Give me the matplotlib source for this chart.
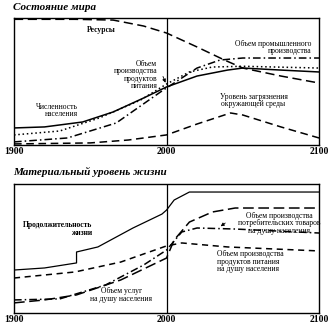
import matplotlib.pyplot as plt

plt.rcParams["font.family"] = ["Liberation Serif", "DejaVu Serif"]

# --- top panel: "state of the world" (values as % of panel height) ---
res_years = [1900, 1940, 1965, 1985, 2000, 2020, 2038, 2050, 2075, 2100]
res_vals = [99, 99, 98.4, 93.7, 88.2, 77.2, 66.9, 60.6, 54.3, 48.8]

pop_years = [1900, 1920, 1945, 1965, 1985, 2000, 2020, 2040, 2050, 2075, 2100]
pop_vals = [13.4, 14.2, 18.1, 26.0, 37.0, 45.7, 54.3, 59.0, 60.6, 59.0, 57.5]

food_years = [1900, 1930, 1956, 1983, 2000, 2015, 2030, 2050, 2100]
food_vals = [7.9, 11.0, 21.3, 35.4, 48.0, 57.5, 61.4, 62.0, 60.6]

ind_years = [1900, 1935, 1967, 1996, 2000, 2020, 2035, 2050, 2100]
ind_vals = [2.4, 5.5, 17.3, 41.7, 44.9, 60.6, 66.9, 68.5, 68.5]

poll_years = [1900, 1950, 1975, 2000, 2020, 2042, 2050, 2075, 2100]
poll_vals = [0.8, 1.6, 3.9, 7.9, 16.5, 25.2, 23.6, 14.2, 5.5]

# --- bottom panel: "material standard of living" ---
life_years = [1900, 1920, 1941, 1941, 1955, 1978, 1997, 2000, 2005, 2015, 2100]
life_vals = [33.3, 34.9, 38.8, 47.3, 51.2, 65.9, 76.7, 79.8, 87.6, 93.8, 93.8]

fpc_years = [1900, 1940, 1970, 2000, 2010, 2040, 2100]
fpc_vals = [27.1, 31.8, 39.5, 52.0, 54.3, 51.2, 48.1]

goods_years = [1900, 1930, 1960, 1985, 2000, 2010, 2020, 2045, 2100]
goods_vals = [10.1, 10.9, 21.7, 37.2, 48.8, 62.8, 65.9, 65.1, 62.0]

serv_years = [1900, 1920, 1941, 1970, 2000, 2005, 2015, 2030, 2045, 2100]
serv_vals = [7.8, 10.1, 14.0, 25.6, 42.6, 56.6, 70.5, 78.3, 81.4, 81.4]

ticks = [1900, 2000, 2100]

fig = plt.figure(figsize=(3.28, 3.34), dpi=100)
ax1 = fig.add_axes([0.0427, 0.566, 0.930, 0.380])
ax2 = fig.add_axes([0.0427, 0.063, 0.930, 0.386])

for ax in (ax1, ax2):
    ax.set_xlim(1900, 2100)
    ax.set_ylim(0, 100)
    ax.set_yticks([])
    ax.set_xticks(ticks)
    ax.set_xticklabels([str(t) for t in ticks], fontsize=7, fontweight="bold")
    ax.tick_params(axis="x", length=0, pad=1.5)
    ax.axvline(2000, color="black", lw=0.9)
    for sp in ax.spines.values():
        sp.set_linewidth(1.0)

lw = 1.1
ax1.plot(res_years, res_vals, color="black", lw=lw, dashes=(6, 3))
ax1.plot(pop_years, pop_vals, color="black", lw=lw)
ax1.plot(food_years, food_vals, color="black", lw=lw, dashes=(1, 1.8))
ax1.plot(ind_years, ind_vals, color="black", lw=lw, dashes=(5, 2, 1, 2))
ax1.plot(poll_years, poll_vals, color="black", lw=lw, dashes=(5, 3))

tk = dict(fontsize=5.5, color="black", va="top", linespacing=0.9)
ax1.text(1957, 94, "Ресурсы", ha="center", fontweight="bold", **tk)
ax1.text(2095, 83, "Объем промышленного\nпроизводства", ha="right",
         multialignment="right", **tk)
ax1.text(1994, 67, "Объем\nпроизводства\nпродуктов\nпитания", ha="right",
         multialignment="right", **tk)
ax1.annotate("", xy=(2000, 47), xytext=(1997, 56),
             arrowprops=dict(arrowstyle="-|>", lw=0.6, color="black",
                             mutation_scale=5))
ax1.text(1942, 33, "Численность\nнаселения", ha="right",
         multialignment="right", **tk)
ax1.text(2057, 41, "Уровень загрязнения\nокружающей среды", ha="center",
         multialignment="center", **tk)

ax2.plot(life_years, life_vals, color="black", lw=0.9)
ax2.plot(fpc_years, fpc_vals, color="black", lw=lw, dashes=(4, 3))
ax2.plot(goods_years, goods_vals, color="black", lw=lw, dashes=(5, 2, 1, 2))
ax2.plot(serv_years, serv_vals, color="black", lw=lw, dashes=(7, 3))

ax2.text(1951, 71, "Продолжительность\nжизни", ha="right",
         multialignment="right", fontweight="bold", **tk)
ax2.text(2074, 78.5, "Объем производства\nпотребительских товаров\nна душу населения",
         ha="center", multialignment="center", clip_on=False, **tk)
ax2.annotate("", xy=(2034, 66), xytext=(2040, 71),
             arrowprops=dict(arrowstyle="-|>", lw=0.6, color="black",
                             mutation_scale=5))
ax2.text(2033, 48.5, "Объем производства\nпродуктов питания\nна душу населения",
         ha="left", multialignment="left", **tk)
ax2.text(1950, 20, "Объем услуг\nна душу населения", ha="left",
         multialignment="center", **tk)

fig.text(0.04, 0.979, "Состояние мира", fontsize=8, style="italic",
         fontweight="bold", va="center")
fig.text(0.04, 0.485, "Материальный уровень жизни", fontsize=8, style="italic",
         fontweight="bold", va="center")

fig.savefig("out.png", dpi=100)
